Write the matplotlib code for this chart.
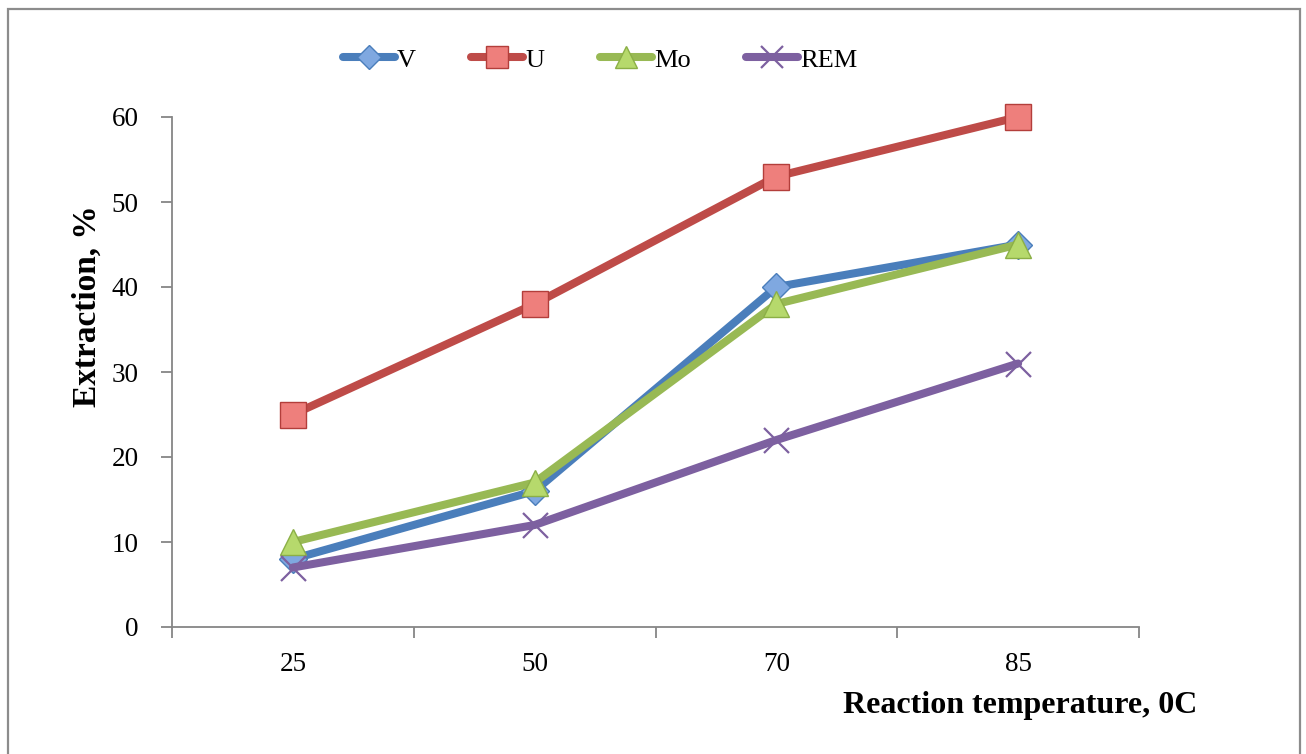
import matplotlib
matplotlib.use("Agg")
import matplotlib.pyplot as plt
from matplotlib.patches import Rectangle

# extraction data
temps = ["25", "50", "70", "85"]
v_ext = [8, 16, 40, 45]
u_ext = [25, 38, 53, 60]
mo_ext = [10, 17, 38, 45]
rem_ext = [7, 12, 22, 31]

W, H = 1306, 754
fig = plt.figure(figsize=(W / 100, H / 100), dpi=100)

# outer frame
fig.patches.append(Rectangle((8 / W, -0.05), 1292 / W, 1.05 - 9 / H,
                             transform=fig.transFigure, fill=False,
                             edgecolor="#8c8c8c", linewidth=1.6))

ax = fig.add_axes([172 / W, (H - 627) / H, (1139 - 172) / W, (627 - 117) / H])

x = [0, 1, 2, 3]
lw = 5.8
common = dict(lw=lw, solid_capstyle="round", clip_on=False)
ax.plot(x, v_ext, color="#4A7EBB", marker="D", ms=14,
        mfc="#7FA8E0", mec="#4A7EBB", mew=1, label="V", **common)
ax.plot(x, u_ext, color="#BE4B48", marker="s", ms=19,
        mfc="#EE7F7C", mec="#B33E3B", mew=1, label="U", **common)
ax.plot(x, mo_ext, color="#98B954", marker="^", ms=19,
        mfc="#B6D96C", mec="#8BAF46", mew=1, label="Mo", **common)
ax.plot(x, rem_ext, color="#7D60A0", marker="x", ms=18,
        mec="#7D60A0", mew=1.6, label="REM", **common)

ax.set_xlim(-0.5, 3.5)
ax.set_ylim(0, 60)
ax.set_yticks(range(0, 61, 10))
ax.set_xticks(x)
ax.set_xticklabels(temps)
ax.set_xticks([-0.5, 0.5, 1.5, 2.5, 3.5], minor=True)

for s in ["top", "right"]:
    ax.spines[s].set_visible(False)
for s in ["left", "bottom"]:
    ax.spines[s].set_color("#868686")
    ax.spines[s].set_linewidth(1.3)

ax.tick_params(axis="x", which="major", length=0, pad=18)
ax.tick_params(axis="x", which="minor", length=8, width=1.3, color="#868686")
ax.tick_params(axis="y", length=8, width=1.3, color="#868686", pad=16)
for lab in ax.get_xticklabels() + ax.get_yticklabels():
    lab.set_fontfamily("Liberation Serif")
    lab.set_fontsize(19.5)

fig.text(1197 / W, (H - 705) / H, "Reaction temperature, 0C",
         ha="right", va="center", fontfamily="Liberation Serif",
         fontweight="bold", fontsize=23)
fig.text(87 / W, (H - 306) / H, "Extraction, %", rotation=90,
         ha="center", va="center", fontfamily="Liberation Serif",
         fontweight="bold", fontsize=24)

fig.legend(loc="center", bbox_to_anchor=(600 / W, (H - 60) / H), ncol=4,
           frameon=False, handlelength=1.97, columnspacing=2.1,
           handletextpad=0.08, markerscale=0.85,
           prop={"family": "Liberation Serif", "size": 19})

fig.savefig("out.png", dpi=100)
